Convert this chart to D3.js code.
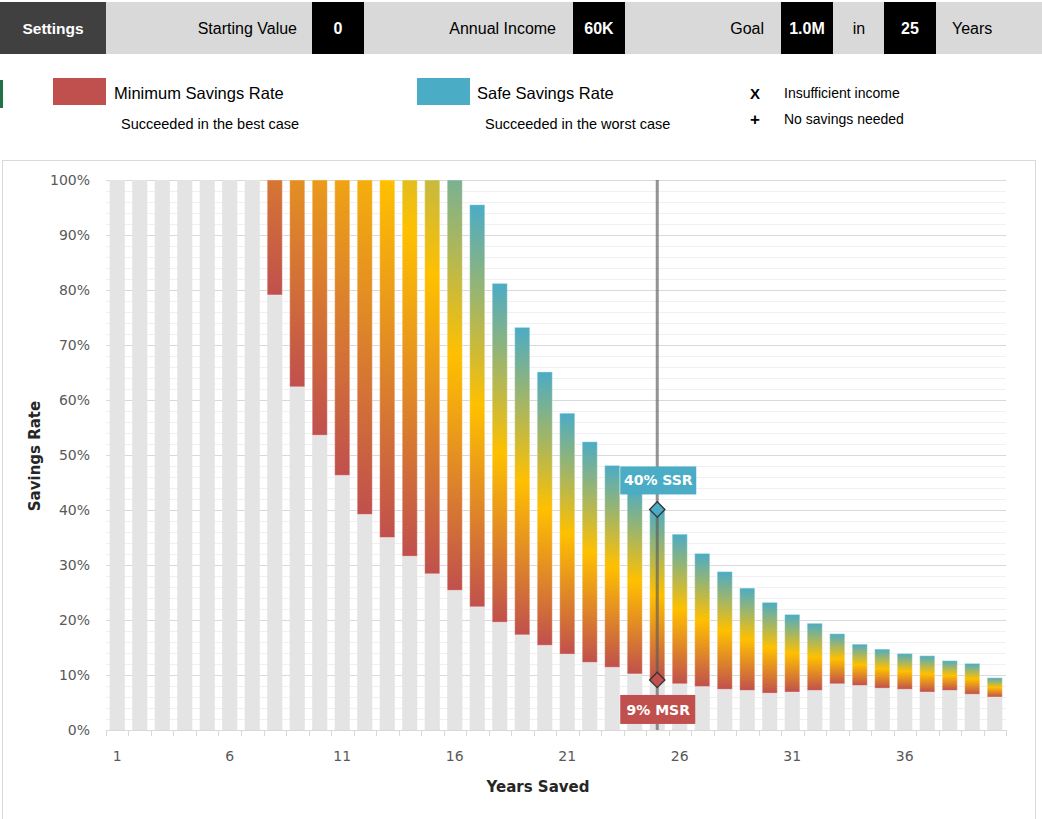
<!DOCTYPE html>
<html>
<head>
<meta charset="utf-8">
<script src="https://cdn.jsdelivr.net/npm/d3@7"></script>
<style>
  html, body { margin: 0; padding: 0; background: #fff; }
  svg { display: block; }
</style>
</head>
<body>
<svg id="chart" width="1042" height="819"></svg>
<script>
// ---------- data ----------
const years = [1,2,3,4,5,6,7,8,9,10,11,12,13,14,15,16,17,18,19,20,21,22,23,24,25,26,27,28,29,30,31,32,33,34,35,36,37,38,39,40];
// Minimum savings rate (%) — null = insufficient income
const msr = [null,null,null,null,null,null,null,79.1,62.4,53.6,46.3,39.2,35.0,31.6,28.4,25.4,22.4,19.6,17.3,15.4,13.8,12.3,11.4,10.2,9.1,8.4,7.9,7.4,7.2,6.7,6.9,7.2,8.4,8.1,7.6,7.4,6.9,7.2,6.5,6.0];
// Safe savings rate (%) — values above 100 are clipped at the chart top
const ssr = [null,null,null,null,null,null,null,202,196,194,191,184,165,150,137,111,95.5,81.2,73.2,65.1,57.6,52.4,48.1,44.0,40.1,35.6,32.1,28.8,25.8,23.2,21.0,19.4,17.5,15.6,14.7,13.9,13.5,12.6,12.1,9.5];
const yTicks = [0,10,20,30,40,50,60,70,80,90,100];
const xLabels = [1,6,11,16,21,26,31,36];
const settingsItems = [
  {label: "Starting Value", value: "0"},
  {label: "Annual Income", value: "60K"},
  {label: "Goal", value: "1.0M"},
  {label: "in", value: "25"}
];
const goalYears = 25;

// ---------- setup ----------
const svg = d3.select("#chart");
const RED = "#c0504d", GOLD = "#ffc000", BLUE = "#4bacc6";
const colorAt = d3.scaleLinear().domain([0, 0.5, 1]).range([RED, GOLD, BLUE]).interpolate(d3.interpolateRgb);

// ---------- top settings bar ----------
svg.append("rect").attr("x", 0).attr("y", 2).attr("width", 1042).attr("height", 52).attr("fill", "#d9d9d9");
svg.append("rect").attr("x", 0).attr("y", 2).attr("width", 106).attr("height", 52).attr("fill", "#404040");
svg.append("text").attr("x", 53).attr("y", 28).attr("text-anchor", "middle").attr("dominant-baseline", "central")
  .attr("font-family", "Liberation Sans, Arial, sans-serif").attr("font-weight", "bold").attr("font-size", 15.5)
  .attr("fill", "#fff").text("Settings");

const labelEnds = [297, 556, 764, 866];
const boxX = [312, 573, 781, 884];
settingsItems.forEach((d, i) => {
  const isIn = d.label === "in";
  svg.append("text").attr("x", isIn ? 859 : labelEnds[i]).attr("y", 28)
    .attr("text-anchor", isIn ? "middle" : "end").attr("dominant-baseline", "central")
    .attr("font-family", "Liberation Sans, Arial, sans-serif").attr("font-size", 16).attr("fill", "#000")
    .text(d.label);
  svg.append("rect").attr("x", boxX[i]).attr("y", 2).attr("width", 52).attr("height", 52).attr("fill", "#000");
  svg.append("text").attr("x", boxX[i] + 26).attr("y", 28).attr("text-anchor", "middle").attr("dominant-baseline", "central")
    .attr("font-family", "Liberation Sans, Arial, sans-serif").attr("font-weight", "bold").attr("font-size", 16)
    .attr("fill", "#fff").text(d.value);
});
svg.append("text").attr("x", 952).attr("y", 28).attr("dominant-baseline", "central")
  .attr("font-family", "Liberation Sans, Arial, sans-serif").attr("font-size", 16).attr("fill", "#000").text("Years");

// ---------- legend ----------
svg.append("rect").attr("x", 0).attr("y", 80).attr("width", 3).attr("height", 28).attr("fill", "#217346");
const legFont = "Liberation Sans, Arial, sans-serif";
svg.append("rect").attr("x", 53).attr("y", 78).attr("width", 53).attr("height", 27).attr("fill", RED);
svg.append("text").attr("x", 114).attr("y", 93).attr("dominant-baseline", "central").attr("font-family", legFont)
  .attr("font-size", 16.5).text("Minimum Savings Rate");
svg.append("text").attr("x", 121).attr("y", 124).attr("dominant-baseline", "central").attr("font-family", legFont)
  .attr("font-size", 14.5).text("Succeeded in the best case");
svg.append("rect").attr("x", 417).attr("y", 78).attr("width", 53).attr("height", 27).attr("fill", BLUE);
svg.append("text").attr("x", 477).attr("y", 93).attr("dominant-baseline", "central").attr("font-family", legFont)
  .attr("font-size", 16.5).text("Safe Savings Rate");
svg.append("text").attr("x", 485).attr("y", 124).attr("dominant-baseline", "central").attr("font-family", legFont)
  .attr("font-size", 14.5).text("Succeeded in the worst case");
svg.append("text").attr("x", 755).attr("y", 93).attr("text-anchor", "middle").attr("dominant-baseline", "central")
  .attr("font-family", legFont).attr("font-weight", "bold").attr("font-size", 15).text("X");
svg.append("text").attr("x", 784).attr("y", 93).attr("dominant-baseline", "central").attr("font-family", legFont)
  .attr("font-size", 14).text("Insufficient income");
svg.append("text").attr("x", 755).attr("y", 119).attr("text-anchor", "middle").attr("dominant-baseline", "central")
  .attr("font-family", legFont).attr("font-weight", "bold").attr("font-size", 17).text("+");
svg.append("text").attr("x", 784).attr("y", 119).attr("dominant-baseline", "central").attr("font-family", legFont)
  .attr("font-size", 14).text("No savings needed");

// ---------- chart frame ----------
svg.append("rect").attr("x", 2.5).attr("y", 160.5).attr("width", 1033).attr("height", 700)
  .attr("fill", "#fff").attr("stroke", "#d9d9d9");

// ---------- scales ----------
const y = d3.scaleLinear().domain([0, 100]).range([730, 180]);
const x = d3.scaleBand().domain(years).range([106, 1006]).paddingInner(0.33).paddingOuter(0.165);
const axisFont = "DejaVu Sans, Verdana, sans-serif";

// gridlines
const minor = d3.range(0, 101, 2).filter(v => v % 10 !== 0);
svg.append("g").selectAll("line").data(minor).join("line")
  .attr("x1", 106).attr("x2", 1006).attr("y1", d => y(d) + 0.5).attr("y2", d => y(d) + 0.5)
  .attr("stroke", "#f0f0f0").attr("stroke-width", 1);
svg.append("g").selectAll("line").data(yTicks.filter(v => v > 0)).join("line")
  .attr("x1", 106).attr("x2", 1006).attr("y1", d => y(d) + 0.5).attr("y2", d => y(d) + 0.5)
  .attr("stroke", "#d9d9d9").attr("stroke-width", 1);

// y labels
svg.append("g").selectAll("text").data(yTicks).join("text")
  .attr("x", 90).attr("y", d => y(d)).attr("text-anchor", "end").attr("dominant-baseline", "central")
  .attr("font-family", axisFont).attr("font-size", 14).attr("fill", "#595959").text(d => d + "%");

// ---------- bars ----------
const rows = years.map((yr, i) => ({year: yr, msr: msr[i], ssr: ssr[i]}));
const defs = svg.append("defs");
rows.forEach(r => {
  if (r.msr == null) return;
  const g = defs.append("linearGradient").attr("id", "grad" + r.year)
    .attr("gradientUnits", "userSpaceOnUse").attr("x1", 0).attr("x2", 0)
    .attr("y1", y(r.msr)).attr("y2", y(r.ssr));
  [0, 0.25, 0.5, 0.75, 1].forEach(o => g.append("stop").attr("offset", o).attr("stop-color", colorAt(o)));
});

// gray base bars
svg.append("g").selectAll("rect").data(rows).join("rect")
  .attr("x", d => x(d.year)).attr("width", x.bandwidth())
  .attr("y", d => d.msr == null ? y(100) : y(d.msr))
  .attr("height", d => d.msr == null ? y(0) - y(100) : y(0) - y(d.msr))
  .attr("fill", "#e4e4e4");

// gradient bars
svg.append("g").selectAll("rect").data(rows.filter(d => d.msr != null)).join("rect")
  .attr("x", d => x(d.year)).attr("width", x.bandwidth())
  .attr("y", d => y(Math.min(d.ssr, 100)))
  .attr("height", d => y(d.msr) - y(Math.min(d.ssr, 100)))
  .attr("fill", d => `url(#grad${d.year})`)
  .attr("stroke", "rgba(255,255,255,0.35)").attr("stroke-width", 1);

// x axis baseline & ticks
const step = x.step();
const bounds = years.map(yr => x(yr) - step * x.paddingInner() / 2).concat([1006]);
svg.append("line").attr("x1", 106).attr("x2", 1006).attr("y1", 730.5).attr("y2", 730.5).attr("stroke", "#d9d9d9");
svg.append("g").selectAll("line").data(bounds).join("line")
  .attr("x1", d => Math.round(d) + 0.5).attr("x2", d => Math.round(d) + 0.5).attr("y1", 730).attr("y2", 736)
  .attr("stroke", "#d9d9d9");
svg.append("g").selectAll("text").data(xLabels).join("text")
  .attr("x", d => x(d) + x.bandwidth() / 2).attr("y", 756).attr("text-anchor", "middle").attr("dominant-baseline", "central")
  .attr("font-family", axisFont).attr("font-size", 14).attr("fill", "#595959").text(d => d);

// axis titles
svg.append("text").attr("x", 538).attr("y", 787).attr("text-anchor", "middle").attr("dominant-baseline", "central")
  .attr("font-family", axisFont).attr("font-weight", "bold").attr("font-size", 15).attr("fill", "#262626").text("Years Saved");
svg.append("text").attr("transform", "translate(35,456) rotate(-90)").attr("text-anchor", "middle").attr("dominant-baseline", "central")
  .attr("font-family", axisFont).attr("font-weight", "bold").attr("font-size", 15).attr("fill", "#262626").text("Savings Rate");

// ---------- goal marker ----------
const goal = rows.find(r => r.year === goalYears);
const gx = x(goal.year) + x.bandwidth() / 2;
svg.append("line").attr("x1", gx).attr("x2", gx).attr("y1", y(100)).attr("y2", y(0))
  .attr("stroke", "rgba(90,90,90,0.65)").attr("stroke-width", 3);

const diamond = d3.symbol().type(d3.symbolDiamond2).size(150);
[{v: goal.ssr, c: BLUE}, {v: goal.msr, c: RED}].forEach(d => {
  svg.append("path").attr("d", diamond).attr("transform", `translate(${gx},${y(d.v)})`)
    .attr("fill", d.c).attr("stroke", "#333").attr("stroke-width", 1.3);
});

// labels
const ssrLabel = svg.append("g").attr("transform", `translate(${gx},${y(goal.ssr) - 29})`);
ssrLabel.append("rect").attr("x", -37).attr("y", -14).attr("width", 76).attr("height", 28).attr("fill", BLUE);
ssrLabel.append("text").attr("x", 1).attr("y", 0).attr("text-anchor", "middle").attr("dominant-baseline", "central")
  .attr("font-family", axisFont).attr("font-weight", "bold").attr("font-size", 14).attr("fill", "#fff")
  .text(Math.round(goal.ssr) + "% SSR");
const msrLabel = svg.append("g").attr("transform", `translate(${gx},${y(goal.msr) + 29})`);
msrLabel.append("rect").attr("x", -37).attr("y", -14).attr("width", 75).attr("height", 29).attr("fill", RED);
msrLabel.append("text").attr("x", 1).attr("y", 1).attr("text-anchor", "middle").attr("dominant-baseline", "central")
  .attr("font-family", axisFont).attr("font-weight", "bold").attr("font-size", 14).attr("fill", "#fff")
  .text(Math.round(goal.msr) + "% MSR");
</script>
</body>
</html>
